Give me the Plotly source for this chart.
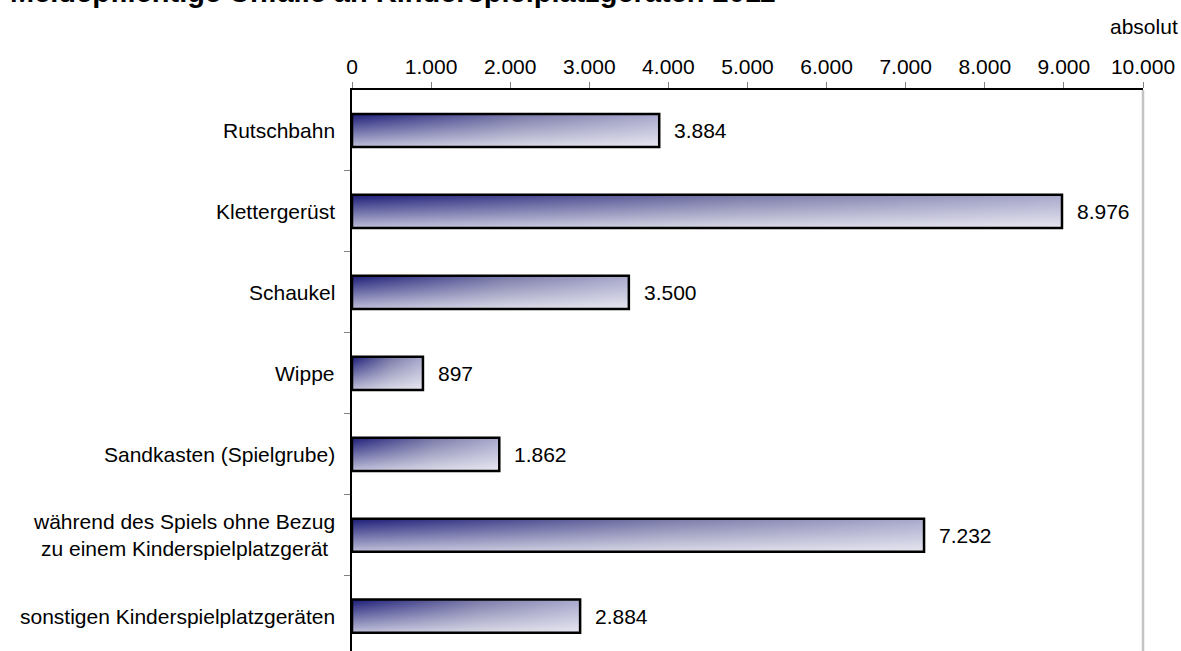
import plotly.graph_objects as go

categories = [
    "Rutschbahn",
    "Klettergerüst",
    "Schaukel",
    "Wippe",
    "Sandkasten (Spielgrube)",
    "während des Spiels ohne Bezug<br>zu einem Kinderspielplatzgerät",
    "sonstigen Kinderspielplatzgeräten",
]
values = [3884, 8976, 3500, 897, 1862, 7232, 2884]
x_ticks = [0, 1000, 2000, 3000, 4000, 5000, 6000, 7000, 8000, 9000, 10000]
title_text = "Meldepflichtige Unfälle an Kinderspielplatzgeräten 2011"
unit_text = "absolut"

FONT = "Liberation Sans, Arial, sans-serif"
FS = 21
HALF = 0.205

def de_fmt(v):
    return f"{v:,}".replace(",", ".")

fig = go.Figure()
for i, v in enumerate(values):
    xs = [0, v, v, 0, 0]
    ys = [i - HALF, i - HALF, i + HALF, i + HALF, i - HALF]
    fig.add_trace(go.Scatter(
        x=xs, y=ys, mode="lines", fill="toself",
        line=dict(width=0, color="rgba(0,0,0,0)"),
        fillgradient=dict(type="horizontal",
                          colorscale=[[0, "#1c1c78"], [0.55, "#7878a8"], [1, "#a8a8cc"]]),
        hoverinfo="skip", showlegend=False))
    fig.add_trace(go.Scatter(
        x=xs, y=ys, mode="lines", fill="toself",
        line=dict(width=2.5, color="#000000"),
        fillgradient=dict(type="vertical",
                          colorscale=[[0, "rgba(255,255,255,0.72)"], [1, "rgba(255,255,255,0)"]]),
        hoverinfo="skip", showlegend=False))

annotations = []
for i, v in enumerate(values):
    annotations.append(dict(x=v, y=i, xref="x", yref="y", text=de_fmt(v),
                            showarrow=False, xanchor="left", yanchor="middle",
                            xshift=13, font=dict(size=FS, color="#000000", family=FONT)))
for i, c in enumerate(categories):
    annotations.append(dict(x=0, y=i, xref="paper", yref="y", text=c,
                            showarrow=False, xanchor="right", yanchor="middle",
                            align="center", xshift=-15,
                            font=dict(size=FS, color="#000000", family=FONT)))
annotations.append(dict(x=1.0, y=1.0, xref="paper", yref="paper", text=unit_text,
                        showarrow=False, xanchor="right", yanchor="middle",
                        xshift=37, yshift=64,
                        font=dict(size=FS, color="#000000", family=FONT)))
annotations.append(dict(x=0, y=1.0, xref="paper", yref="paper", text="<b>" + title_text + "</b>",
                        showarrow=False, xanchor="left", yanchor="bottom",
                        xshift=-344, yshift=80,
                        font=dict(size=29, color="#000000", family=FONT)))

fig.update_layout(
    width=1181, height=651,
    margin=dict(l=352, r=38, t=90, b=0),
    paper_bgcolor="white", plot_bgcolor="white",
    separators=",.",
    font=dict(family=FONT, size=FS, color="#000000"),
    annotations=annotations,
    shapes=[dict(type="line", xref="paper", yref="paper", x0=1, x1=1, y0=0, y1=1,
                 layer="above", line=dict(color="#c4c4c4", width=2.5))],
    xaxis=dict(side="top", range=[0, 10000], tickmode="array", tickvals=x_ticks,
               tickformat=",d", showgrid=False, zeroline=False,
               showline=True, linecolor="#000000", linewidth=1.5,
               ticks="outside", ticklen=6, tickcolor="#808080", tickwidth=1,
               tickfont=dict(size=FS, family=FONT, color="#000000")),
    yaxis=dict(range=[6.43, -0.5], showgrid=False, zeroline=False,
               showline=True, linecolor="#000000", linewidth=1.5,
               tickmode="array", tickvals=list(range(len(categories))),
               showticklabels=False, ticks="",
               minor=dict(tickmode="array", tickvals=[k + 0.5 for k in range(len(categories) - 1)],
                          ticks="outside", ticklen=6, tickcolor="#808080", tickwidth=1)),
)

fig.write_html("out.html", config={"displayModeBar": False},
               post_script="document.body.style.margin='0';document.body.style.overflow='hidden';")
